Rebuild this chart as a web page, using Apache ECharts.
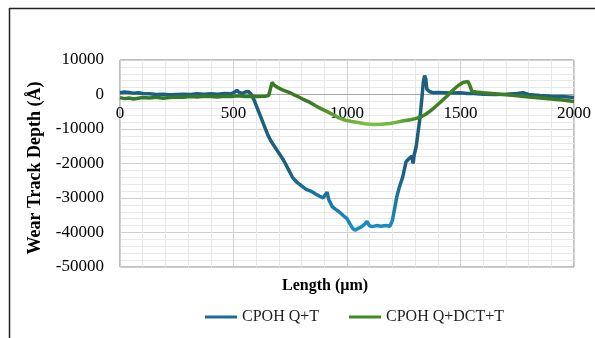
<!DOCTYPE html>
<html>
<head>
<meta charset="utf-8">
<script src="https://cdn.jsdelivr.net/npm/echarts@6/dist/echarts.min.js"></script>
<style>
html,body{margin:0;padding:0;background:#fff;}
#chart{width:595px;height:338px;}
</style>
</head>
<body>
<div id="chart"></div>
<script>
var seriesNames = ['CPOH Q+T', 'CPOH Q+DCT+T'];
var xTicks = [0, 500, 1000, 1500, 2000];
var yTicks = [-50000, -40000, -30000, -20000, -10000, 0, 10000];

var blueData = [
[0,500],[20,700],[40,600],[60,400],[80,500],[100,300],[130,200],[160,0],[190,100],[220,-100],
[250,0],[280,100],[310,0],[340,200],[370,100],[400,200],[430,100],[460,300],[490,200],[505,700],
[515,1200],[525,600],[540,300],[555,800],[565,900],[575,300],[590,-1500],[605,-4000],[620,-6500],
[635,-9000],[650,-11500],[665,-13500],[680,-15000],[700,-17000],[720,-19000],[740,-21500],
[760,-24000],[780,-25500],[800,-26500],[820,-27500],[840,-28000],[860,-28800],[880,-29500],
[895,-30000],[905,-29000],[912,-28300],[920,-30500],[935,-32500],[950,-33300],[965,-34000],
[982,-35000],[1000,-36000],[1013,-37500],[1025,-38800],[1035,-39300],[1050,-38800],[1065,-38300],
[1078,-37600],[1088,-36800],[1098,-38000],[1110,-38300],[1130,-38000],[1150,-38200],[1170,-38000],
[1189,-38200],[1200,-36500],[1210,-33000],[1220,-29500],[1230,-27000],[1245,-24000],[1260,-19500],
[1275,-18500],[1286,-17800],[1291,-20000],[1296,-17500],[1305,-15000],[1315,-10000],[1322,-6500],
[1330,-1000],[1336,3500],[1342,5500],[1347,4500],[1352,1500],[1365,800],[1380,500],[1400,600],
[1430,500],[1460,400],[1500,500],[1530,300],[1560,300],[1600,100],[1650,0],[1700,100],[1750,300],
[1775,500],[1800,0],[1850,-300],[1900,-500],[1950,-600],[2000,-900]
];

var greenData = [
[0,-900],[20,-1200],[40,-1000],[60,-1300],[80,-1100],[100,-900],[130,-1000],[160,-800],[190,-1100],
[220,-900],[250,-700],[280,-800],[310,-600],[340,-700],[370,-500],[400,-600],[430,-700],[460,-500],
[490,-600],[520,-400],[550,-600],[580,-500],[610,-600],[640,-500],[655,-300],[662,1500],[670,3500],
[678,2800],[690,2200],[710,1500],[730,1000],[750,500],[770,-200],[790,-800],[810,-1500],[837,-2300],
[860,-3200],[885,-4100],[911,-4900],[940,-5900],[965,-6800],[990,-7400],[1020,-7800],[1050,-8100],
[1080,-8500],[1115,-8700],[1150,-8600],[1189,-8400],[1220,-8000],[1250,-7600],[1280,-7300],
[1300,-7000],[1322,-6600],[1345,-5800],[1366,-4800],[1390,-3500],[1410,-2300],[1440,-500],
[1467,1300],[1490,2600],[1511,3500],[1533,3800],[1542,2500],[1550,900],[1570,700],[1600,500],
[1650,200],[1700,-100],[1750,-400],[1800,-700],[1850,-1000],[1900,-1300],[1950,-1600],[2000,-2000]
];

var FONT = "'Liberation Serif','Times New Roman',serif";
var chart = echarts.init(document.getElementById('chart'));

var GRID = {left: 120, right: 21, top: 60, bottom: 71};
var plotH = 338 - GRID.top - GRID.bottom;
var yMin = yTicks[0], yMax = yTicks[yTicks.length - 1];
// place the x axis on the y=0 line
var xAxisOffset = -plotH * (0 - yMin) / (yMax - yMin);

var blueGrad = new echarts.graphic.LinearGradient(0, 0, 0, 1, [
  {offset: 0, color: '#1c5f80'},
  {offset: 0.6, color: '#1b5e7e'},
  {offset: 1, color: '#1990c6'}
]);
var greenGrad = new echarts.graphic.LinearGradient(0, 0, 1, 0, [
  {offset: 0, color: '#2f7a2c'},
  {offset: 0.42, color: '#3a7a22'},
  {offset: 0.48, color: '#5fa836'},
  {offset: 0.55, color: '#7cc242'},
  {offset: 0.6, color: '#70b83e'},
  {offset: 0.66, color: '#3f8226'},
  {offset: 1, color: '#3a7a22'}
]);

chart.setOption({
  backgroundColor: '#ffffff',
  animation: false,
  grid: {left: GRID.left, right: GRID.right, top: GRID.top, bottom: GRID.bottom, show: true, borderColor: '#808080', borderWidth: 1},
  xAxis: {
    type: 'value', min: xTicks[0], max: xTicks[xTicks.length - 1], interval: 500,
    position: 'bottom', offset: xAxisOffset,
    axisLine: {onZero: false, lineStyle: {color: '#a6a6a6', width: 1}},
    axisTick: {show: false},
    axisLabel: {color: '#000', fontFamily: FONT, fontSize: 17, margin: 11, formatter: function (v) { return String(v); }},
    splitLine: {show: true, lineStyle: {color: '#d0d0d0', width: 1}},
    minorTick: {show: false, splitNumber: 5},
    minorSplitLine: {show: true, lineStyle: {color: '#e8e8e8', width: 1}}
  },
  yAxis: {
    type: 'value', min: yMin, max: yMax, interval: 10000,
    axisLine: {show: false},
    axisTick: {show: false},
    axisLabel: {color: '#000', fontFamily: FONT, fontSize: 17, margin: 16, formatter: function (v) { return String(v); }},
    splitLine: {show: true, lineStyle: {color: '#d0d0d0', width: 1}},
    minorTick: {show: false, splitNumber: 5},
    minorSplitLine: {show: true, lineStyle: {color: '#e8e8e8', width: 1}}
  },
  legend: {
    bottom: 8, left: 200,
    itemWidth: 32, itemHeight: 3, itemGap: 30, icon: 'rect',
    textStyle: {fontFamily: FONT, fontSize: 16, color: '#222'},
    data: [
      {name: seriesNames[0], itemStyle: {color: '#1b6d95'}},
      {name: seriesNames[1], itemStyle: {color: '#3f8a26'}}
    ]
  },
  graphic: [
    {type: 'line', shape: {x1: 9.5, y1: 8, x2: 9.5, y2: 338}, style: {stroke: '#222', lineWidth: 1.5}},
    {type: 'line', shape: {x1: 9, y1: 8.5, x2: 595, y2: 8.5}, style: {stroke: '#222', lineWidth: 1.5}},
    {type: 'text', left: 282, top: 278,
      style: {text: 'Length (µm)', font: "bold 16px 'Liberation Serif','Times New Roman',serif", fill: '#000'}},
    {type: 'text', x: 35, y: 168, rotation: Math.PI / 2, originX: 0, originY: 0,
      style: {text: 'Wear Track Depth (Å)', font: "bold 18px 'Liberation Serif','Times New Roman',serif", fill: '#000', align: 'center', verticalAlign: 'middle'}}
  ],
  series: [
    {name: seriesNames[0], type: 'line', data: blueData, showSymbol: false, smooth: false,
      lineStyle: {width: 3.5, color: blueGrad}, itemStyle: {color: '#1b6d95'}, z: 2},
    {name: seriesNames[1], type: 'line', data: greenData, showSymbol: false, smooth: false,
      lineStyle: {width: 3.5, color: greenGrad}, itemStyle: {color: '#3f8a26'}, z: 3}
  ]
});
</script>
</body>
</html>
